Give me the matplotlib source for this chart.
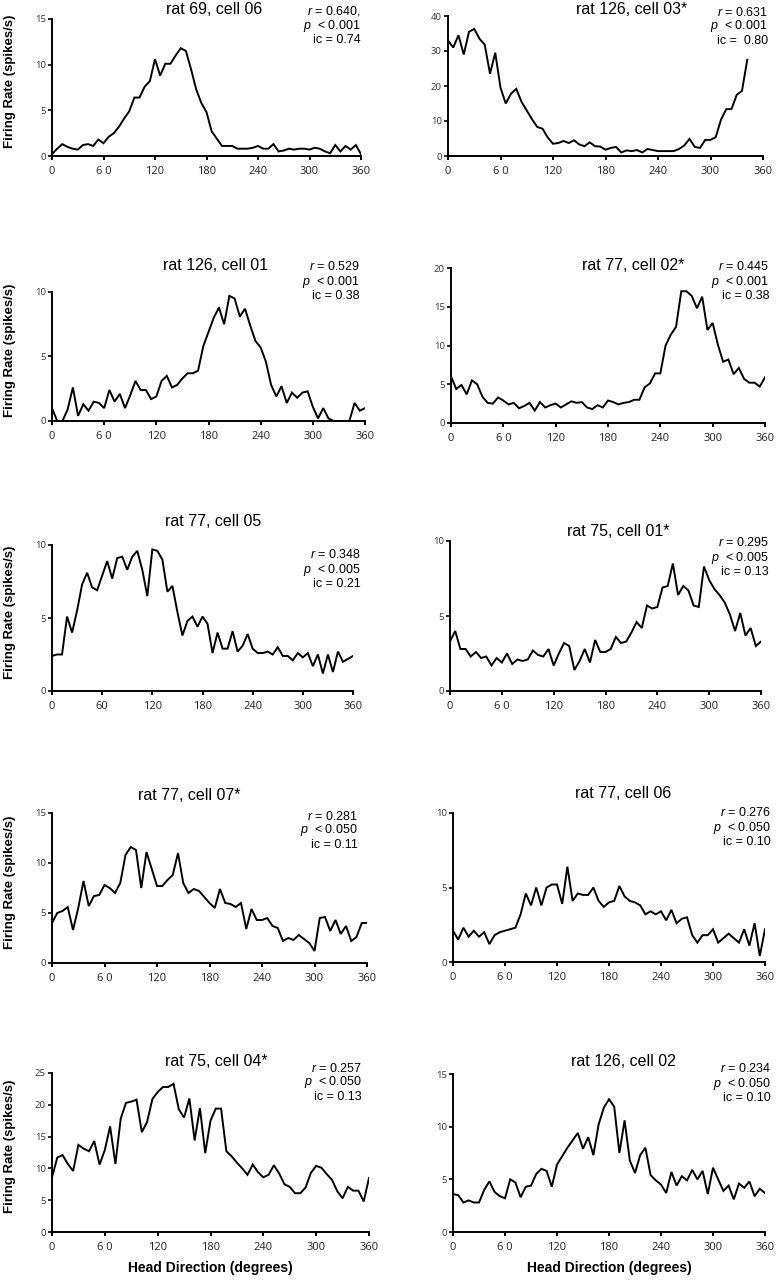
import matplotlib
matplotlib.use("Agg")
import matplotlib.pyplot as plt

plt.rcParams['font.family'] = ['Liberation Sans', 'DejaVu Sans']
plt.rcParams['mathtext.fontset'] = 'custom'
plt.rcParams['mathtext.it'] = 'Liberation Sans:italic'
plt.rcParams['mathtext.rm'] = 'Liberation Sans'

angles = list(range(0, 361, 6))

rat69_cell06 = [0.2, 0.8, 1.3, 1.0, 0.8, 0.7, 1.2, 1.3, 1.1, 1.8,
                1.4, 2.1, 2.5, 3.2, 4.1, 4.9, 6.4, 6.4, 7.6, 8.2,
                10.6, 8.8, 10.1, 10.1, 11.0, 11.8, 11.5, 9.5, 7.3, 5.8,
                4.8, 2.7, 1.9, 1.1, 1.1, 1.1, 0.8, 0.8, 0.8, 0.9,
                1.1, 0.8, 0.8, 1.3, 0.5, 0.6, 0.8, 0.7, 0.8, 0.8,
                0.7, 0.9, 0.8, 0.5, 0.3, 1.2, 0.5, 1.1, 0.7, 1.2,
                0.2]
rat126_cell03 = [33, 31, 34.5, 29, 35.5, 36.3, 33.5, 31.8, 23.5, 29.5,
                 19.5, 15, 17.8, 19.2, 15.5, 13, 10.5, 8.3, 7.8, 5.3,
                 3.5, 3.7, 4.3, 3.7, 4.5, 3.3, 2.8, 3.9, 2.8, 2.7,
                 1.8, 2.3, 2.6, 1.0, 1.6, 1.4, 1.7, 1.0, 2.0, 1.7,
                 1.4, 1.4, 1.4, 1.4, 2.0, 3.0, 4.9, 2.6, 2.3, 4.6,
                 4.6, 5.4, 10.4, 13.4, 13.4, 17.5, 18.6, 27.5]
rat126_cell01 = [1.0, 0, 0, 0.9, 2.6, 0.4, 1.3, 0.8, 1.5, 1.4,
                 1.0, 2.4, 1.5, 2.1, 1.0, 2.0, 3.1, 2.4, 2.4, 1.7,
                 1.9, 3.1, 3.5, 2.6, 2.8, 3.3, 3.7, 3.7, 3.9, 5.8,
                 6.9, 8.0, 8.8, 7.5, 9.7, 9.5, 8.1, 8.7, 7.4, 6.2,
                 5.7, 4.6, 2.8, 1.9, 2.7, 1.4, 2.2, 1.8, 2.2, 2.3,
                 1.1, 0.2, 1.0, 0.2, 0, 0, 0, 0, 1.4, 0.8,
                 1.0]
rat77_cell02 = [6.0, 4.4, 4.9, 3.7, 5.5, 5.0, 3.4, 2.6, 2.5, 3.3,
                2.9, 2.4, 2.6, 1.9, 2.2, 2.6, 1.6, 2.7, 2.0, 2.3,
                2.5, 2.0, 2.4, 2.8, 2.6, 2.7, 2.0, 1.8, 2.3, 2.0,
                2.9, 2.7, 2.4, 2.6, 2.7, 3.0, 3.0, 4.6, 5.1, 6.4,
                6.4, 10.0, 11.4, 12.4, 17.0, 17.0, 16.4, 14.8, 16.3, 12.0,
                12.9, 10.1, 7.9, 8.2, 6.3, 7.1, 5.7, 5.2, 5.2, 4.7,
                5.9]
rat77_cell05 = [2.4, 2.5, 2.5, 5.1, 4.0, 5.5, 7.3, 8.1, 7.1, 6.9,
                7.9, 8.9, 7.7, 9.1, 9.2, 8.3, 9.2, 9.6, 8.3, 6.5,
                9.7, 9.6, 9.0, 6.8, 7.2, 5.4, 3.8, 4.8, 5.1, 4.4,
                5.1, 4.6, 2.6, 4.0, 2.9, 2.9, 4.1, 2.7, 3.1, 3.9,
                2.9, 2.6, 2.6, 2.7, 2.5, 3.0, 2.4, 2.4, 2.1, 2.6,
                2.3, 2.6, 1.7, 2.5, 1.2, 2.5, 1.3, 2.7, 2.0, 2.2,
                2.4]
rat75_cell01 = [3.3, 4.0, 2.8, 2.8, 2.3, 2.6, 2.2, 2.3, 1.7, 2.2,
                1.9, 2.5, 1.8, 2.1, 2.0, 2.1, 2.7, 2.4, 2.3, 2.8,
                1.7, 2.5, 3.2, 3.0, 1.4, 2.0, 2.8, 1.9, 3.4, 2.6,
                2.6, 2.8, 3.6, 3.2, 3.3, 3.9, 4.6, 4.2, 5.7, 5.5,
                5.6, 6.9, 7.0, 8.5, 6.4, 7.0, 6.7, 5.7, 5.6, 8.3,
                7.4, 6.8, 6.4, 5.9, 5.1, 4.0, 5.2, 3.7, 4.2, 3.0,
                3.3]
rat77_cell07 = [4.0, 5.0, 5.2, 5.6, 3.3, 5.5, 8.2, 5.7, 6.7, 6.8,
                7.8, 7.5, 7.0, 8.0, 10.8, 11.6, 11.3, 7.5, 11.1, 9.4,
                7.7, 7.7, 8.3, 8.8, 11.0, 8.0, 7.0, 7.4, 7.2, 6.6,
                6.0, 5.5, 7.4, 6.0, 5.9, 5.6, 6.0, 3.4, 5.4, 4.3,
                4.3, 4.5, 3.7, 3.5, 2.2, 2.5, 2.3, 2.8, 2.4, 2.0,
                1.2, 4.5, 4.6, 3.2, 4.3, 2.9, 3.7, 2.2, 2.6, 4.0,
                4.0]
rat77_cell06 = [2.1, 1.5, 2.3, 1.7, 2.1, 1.7, 2.0, 1.2, 1.8, 2.0,
                2.1, 2.2, 2.3, 3.2, 4.6, 3.8, 5.0, 3.8, 5.0, 5.2,
                5.2, 3.9, 6.4, 4.1, 4.6, 4.5, 4.5, 5.0, 4.1, 3.7,
                4.0, 4.1, 5.1, 4.4, 4.1, 4.0, 3.8, 3.2, 3.4, 3.2,
                3.4, 2.8, 3.5, 2.6, 2.9, 3.0, 1.8, 1.3, 1.8, 1.8,
                2.2, 1.3, 1.6, 1.9, 1.6, 1.3, 2.2, 1.1, 2.6, 0.4,
                2.2]
rat75_cell04 = [8.6, 11.7, 12.1, 10.7, 9.6, 13.7, 13.1, 12.7, 14.3, 10.6,
                12.9, 16.6, 10.7, 17.8, 20.3, 20.5, 20.8, 15.7, 17.3, 20.9,
                22.0, 22.8, 22.8, 23.3, 19.3, 18.0, 21.0, 14.4, 19.5, 12.4,
                17.5, 19.4, 19.4, 12.7, 11.9, 10.9, 10.0, 9.0, 10.6, 9.4,
                8.6, 9.0, 10.5, 9.2, 7.5, 7.1, 6.1, 6.1, 7.0, 9.3,
                10.4, 10.1, 9.1, 8.2, 6.4, 5.3, 7.1, 6.5, 6.5, 4.8,
                8.5]
rat126_cell02 = [3.6, 3.5, 2.8, 3.0, 2.8, 2.8, 4.0, 4.8, 3.8, 3.4,
                 3.2, 5.0, 4.7, 3.3, 4.3, 4.4, 5.5, 6.0, 5.8, 4.3,
                 6.4, 7.2, 8.0, 8.7, 9.4, 7.9, 9.0, 7.3, 10.2, 11.8,
                 12.6, 11.9, 7.5, 10.6, 6.8, 5.6, 7.3, 8.0, 5.4, 4.9,
                 4.5, 3.7, 5.7, 4.4, 5.3, 4.9, 5.9, 5.0, 5.8, 3.6,
                 6.1, 5.0, 3.9, 4.4, 3.1, 4.6, 4.2, 4.8, 3.4, 4.1,
                 3.7]

titles = ["rat 69, cell 06", "rat 126, cell 03*",
          "rat 126, cell 01", "rat 77, cell 02*",
          "rat 77, cell 05", "rat 75, cell 01*",
          "rat 77, cell 07*", "rat 77, cell 06",
          "rat 75, cell 04*", "rat 126, cell 02"]
series = [rat69_cell06, rat126_cell03, rat126_cell01, rat77_cell02,
          rat77_cell05, rat75_cell01, rat77_cell07, rat77_cell06,
          rat75_cell04, rat126_cell02]
r_text = ["0.640,", "0.631", "0.529", "0.445", "0.348", "0.295",
          "0.281", "0.276", "0.257", "0.234"]
p_text = ["0.001", "0.001", "0.001", "0.001", "0.005", "0.005",
          "0.050", "0.050", "0.050", "0.050"]
ic_text = ["0.74", " 0.80", "0.38", "0.38", "0.21", "0.13",
           "0.11", "0.10", "0.13", "0.10"]
y_tops = [15, 40, 10, 20, 10, 10, 15, 10, 25, 15]
y_steps = [5, 10, 5, 5, 5, 5, 5, 5, 5, 5]
x_ticks = [0, 60, 120, 180, 240, 300, 360]
x_labels = ["0", "6 0", "120", "180", "240", "300", "360"]
x_labels_alt = ["0", "60", "120", "180", "240", "300", "360"]

W, H = 777, 1280
fig = plt.figure(figsize=(W / 100, H / 100), dpi=100)

# axes boxes in pixels: (x0, x1, ytop, ybottom)
boxes = [(52, 361, 19, 156), (448, 763, 16, 156),
         (52, 365, 292, 421), (451, 765, 268, 423),
         (52, 353, 545, 691), (450, 761, 541, 691),
         (52, 367, 813, 963), (453, 765, 813, 962),
         (52, 369, 1073, 1232), (453, 765, 1074, 1232)]
title_pos = [(214, 9), (632, 9), (215, 266), (633, 265), (213, 522), (618, 531),
             (189, 795), (623, 794), (216, 1062), (623, 1062)]
stat_pos = [(361, 11), (768, 12), (360, 267), (769, 267), (361, 555), (769, 543),
            (358, 816), (772, 813), (362, 1068), (773, 1069)]

for i, vals in enumerate(series):
    x0, x1, yt, yb = boxes[i]
    ax = fig.add_axes([x0 / W, 1 - yb / H, (x1 - x0) / W, (yb - yt) / H])
    ax.plot(angles[:len(vals)], vals, color='black', lw=1.4, solid_joinstyle='miter')
    ax.set_xlim(0, 360)
    ax.set_ylim(0, y_tops[i])
    ax.set_xticks(x_ticks)
    ax.set_xticklabels(x_labels_alt if i == 4 else x_labels,
                       fontfamily='Open Sans', fontsize=8, color='#222222')
    ax.set_yticks(list(range(0, y_tops[i] + 1, y_steps[i])))
    ax.set_yticklabels([str(v) for v in range(0, y_tops[i] + 1, y_steps[i])],
                       fontfamily='Open Sans', fontsize=6.8, color='#333333')
    for s in ['top', 'right']:
        ax.spines[s].set_visible(False)
    for s in ['left', 'bottom']:
        ax.spines[s].set_linewidth(1.4)
    ax.spines['left'].set_bounds(0, y_tops[i])
    ax.tick_params(axis='x', direction='out', length=3, width=1.4, pad=4.5)
    ax.tick_params(axis='y', direction='out', length=3, width=1.2, pad=1.5)
    ax.patch.set_alpha(0)

    tx, ty = title_pos[i]
    fig.text(tx / W, 1 - ty / H, titles[i], ha='center', va='center', fontsize=11.5)
    sx, sy = stat_pos[i]
    lines = [r"$r$ = " + r_text[i], r"$p$  < " + p_text[i], "ic = " + ic_text[i]]
    for k, line in enumerate(lines):
        fig.text(min(sx, 771) / W, 1 - (sy + 14.5 * k) / H, line, ha='right',
                 va='center', fontsize=9)

    if i % 2 == 0:
        fig.text(10 / W, 1 - ((yt + yb) / 2 - 6) / H, "Firing Rate (spikes/s)",
                 rotation=90, ha='center', va='center', fontsize=9.5,
                 fontweight='bold')
    if i >= 8:
        fig.text(((x0 + x1) / 2) / W, 1 - 1268 / H, "Head Direction (degrees)",
                 ha='center', va='center', fontsize=10, fontweight='bold')

fig.savefig("out.png", dpi=100)
